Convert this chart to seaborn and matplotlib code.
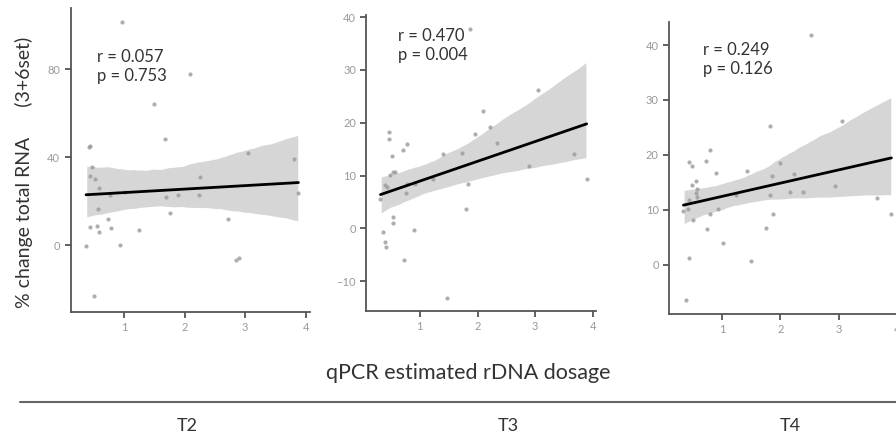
import numpy as np
import pandas as pd
import seaborn as sns
import matplotlib.pyplot as plt
from matplotlib.lines import Line2D

sns.set_style('ticks')
plt.rcParams['font.family'] = ['Lato', 'DejaVu Sans']

# T2 : rDNA dosage vs % change total RNA
t2_x = [0.956, 2.08, 1.50, 1.67, 0.417, 0.43, 3.05, 3.80, 0.44, 0.47, 0.52, 2.25,
        0.58, 1.02, 0.76, 1.69, 1.89, 2.23, 3.88, 0.56, 1.76, 0.74, 2.72, 0.44,
        0.555, 0.79, 0.58, 1.25, 0.37, 0.93, 2.85, 2.89, 0.505]
t2_y = [101.7, 77.8, 64.2, 48.3, 44.8, 45.2, 41.8, 39.3, 31.4, 35.4, 30.0, 30.8,
        26.1, 24.0, 23.0, 22.0, 22.8, 22.6, 23.7, 16.2, 14.4, 12.0, 11.8, 8.4,
        8.8, 7.6, 5.8, 6.7, -0.3, -0.2, -6.8, -6.1, -23.0]

# T3
t3_x = [1.87, 3.04, 2.10, 2.22, 1.96, 2.34, 0.47, 0.46, 0.78, 0.71, 0.52, 1.40,
        1.73, 3.67, 2.89, 0.48, 0.54, 0.57, 3.89, 1.23, 0.40, 0.43, 0.78, 1.84,
        0.92, 0.76, 0.32, 1.80, 0.54, 0.54, 0.37, 0.90, 0.39, 0.42, 0.72, 1.48]
t3_y = [37.7, 26.2, 22.3, 19.2, 17.9, 16.2, 18.3, 17.0, 15.9, 14.9, 13.8, 14.0,
        14.2, 14.1, 11.8, 10.2, 10.7, 10.6, 9.3, 9.3, 8.3, 7.8, 8.5, 8.5,
        8.4, 6.7, 5.5, 3.7, 2.1, 1.1, -0.6, -0.3, -2.6, -3.5, -6.0, -13.1]

# T4
t4_x = [2.53, 3.06, 1.82, 0.80, 0.43, 0.73, 0.49, 1.99, 1.42, 0.90, 1.85, 2.24,
        0.55, 0.49, 2.93, 0.58, 0.55, 0.57, 1.82, 2.16, 2.39, 1.24, 3.66, 0.44,
        0.34, 0.41, 0.94, 0.79, 1.88, 3.90, 0.51, 0.75, 1.75, 1.01, 0.44, 1.50, 0.39]
t4_y = [41.8, 26.1, 25.2, 20.8, 18.7, 18.8, 17.9, 18.5, 17.0, 16.7, 16.2, 16.5,
        15.3, 14.5, 14.4, 13.7, 13.0, 12.4, 12.7, 13.2, 13.3, 12.7, 12.2, 11.8,
        9.8, 10.2, 10.2, 9.3, 9.2, 9.2, 8.2, 6.4, 6.7, 3.9, 1.2, 0.7, -6.5]

panels = ['T2', 'T3', 'T4']
stats = ['r = 0.057\np = 0.753', 'r = 0.470\np = 0.004', 'r = 0.249\np = 0.126']
yticks = [[0, 40, 80], [-10, 0, 10, 20, 30, 40], [0, 10, 20, 30, 40]]
ylims = [(-30.4, 108), (-15.6, 40.4), (-9.0, 44.2)]
xlims = [(0.116, 4.07), (0.077, 4.06), (0.094, 4.05)]

df = pd.concat([
    pd.DataFrame({'dosage': t2_x, 'change': t2_y, 'time': 'T2'}),
    pd.DataFrame({'dosage': t3_x, 'change': t3_y, 'time': 'T3'}),
    pd.DataFrame({'dosage': t4_x, 'change': t4_y, 'time': 'T4'}),
])

fig = plt.figure(figsize=(8.96, 4.41), dpi=100)
rects = [[0.0789, 0.293, 0.267, 0.689],
         [0.409, 0.295, 0.2567, 0.671],
         [0.7467, 0.288, 0.258, 0.662]]
text_pos = [(0.109, 0.865), (0.137, 0.956), (0.146, 0.93)]

for i, t in enumerate(panels):
    ax = fig.add_axes(rects[i])
    sub = df[df['time'] == t]
    sns.regplot(x='dosage', y='change', data=sub, ax=ax, seed=3,
                scatter_kws={'s': 9, 'color': '#9a9a9a', 'linewidths': 0},
                line_kws={'color': 'black', 'lw': 2},
                color='#bdbdbd')
    # lighter band
    for c in ax.collections[1:]:
        c.set_facecolor('#d6d6d6')
        c.set_alpha(1)
        c.set_zorder(0)
    ax.set_xlim(*xlims[i])
    ax.set_ylim(*ylims[i])
    ax.set_xticks([1, 2, 3, 4])
    ax.set_yticks(yticks[i])
    ax.set_xlabel('')
    ax.set_ylabel('')
    sns.despine(ax=ax)
    for s in ['left', 'bottom']:
        ax.spines[s].set_color('#555555')
        ax.spines[s].set_linewidth(1.3)
    ax.tick_params(colors='#555555', labelcolor='#999999', labelsize=8,
                   length=4, width=1.3)
    ax.text(text_pos[i][0], text_pos[i][1], stats[i], transform=ax.transAxes,
            ha='left', va='top', fontsize=12, color='#333333', linespacing=1.2)

fig.text(24 / 896, 1 - 172 / 441, '% change total RNA      (3+6set)',
         rotation=90, ha='center', va='center', fontsize=14, color='#333333')
fig.text(468 / 896, 1 - 373 / 441, 'qPCR estimated rDNA dosage',
         ha='center', va='center', fontsize=15.5, color='#333333')
fig.add_artist(Line2D([20 / 896, 1.0], [1 - 402 / 441] * 2,
                      transform=fig.transFigure, color='#666666', lw=1.5))
for lab, xp in zip(panels, [187, 508, 790]):
    fig.text(xp / 896, 1 - 426 / 441, lab, ha='center', va='center',
             fontsize=13, color='#333333')

fig.savefig('out.png', dpi=100)
